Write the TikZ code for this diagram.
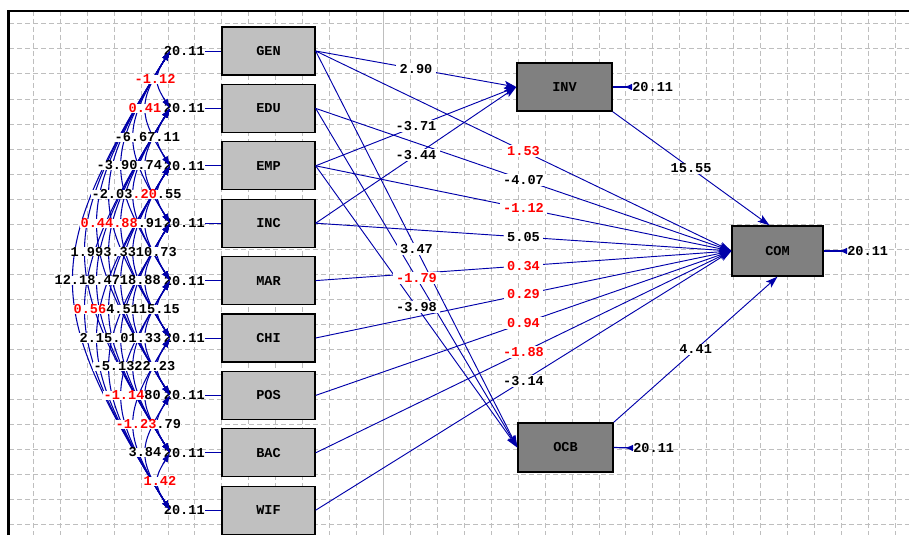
\documentclass[tikz,border=0pt]{standalone}
\usepackage{fontspec}
\newfontfamily\lisfont{Liberation Mono}
\usetikzlibrary{arrows.meta,calc}
\definecolor{lblue}{RGB}{0,0,170}
\definecolor{lred}{RGB}{255,0,0}
\definecolor{gridc}{RGB}{190,190,190}
\definecolor{boxl}{RGB}{192,192,192}
\definecolor{boxd}{RGB}{128,128,128}
\newcommand\lisf{\lisfont\bfseries\fontsize{10.2}{12}\selectfont}
\newcommand\covarcs[1]{%
  \foreach \i in {0,...,7}{%
    \pgfmathtruncatemacro\js{\i+1}%
    \foreach \j in {\js,...,8}{%
      \pgfmathsetmacro\kx{0.28*57.4*(\j-\i)}%
      \pgfmathsetmacro\ky{0.45*57.4*(\j-\i)}%
      \draw[#1] (c\i) .. controls ($(c\i)+(-\kx,\ky)$) and ($(c\j)+(-\kx,-\ky)$) .. (c\j);
    }%
  }%
}
\begin{document}
\begin{tikzpicture}[x=0.75pt,y=-0.75pt,
  gridl/.style={draw=gridc,line width=0.75pt,dash pattern=on 3.75pt off 2.25pt},
  exo/.style={draw=black,line width=1pt,fill=boxl,minimum width=69.75pt,minimum height=36pt,inner sep=0pt,font=\lisf},
  endo/.style={draw=black,line width=1pt,fill=boxd,inner sep=0pt,font=\lisf},
  pth/.style={draw=lblue,line width=0.7pt},
  arr/.style={pth,-{Stealth[length=9pt,width=6pt,inset=2pt]}},
  cov/.style={draw=lblue,line width=0.8pt,{Latex[length=7pt,width=4.5pt]}-{Latex[length=7pt,width=4.5pt]}},
  vtxt/.style={inner sep=0pt,font=\lisf},
  covl/.style={fill=white,inner xsep=0.3pt,inner ysep=0pt,text height=6.5pt,text depth=0.3pt,anchor=west,font=\lisf},
  lbl/.style={fill=white,inner xsep=2.5pt,inner ysep=1pt,font=\lisf},
  rl/.style={lbl,text=lred}]
\useasboundingbox (0,0) rectangle (909,535);
\fill[white] (0,0) rectangle (909,535);
% grid
\begin{scope}
\clip (9,11) rectangle (909,535);
\foreach \k in {0,...,32} \draw[gridl] ({33.3+26.94*\k},11) -- ({33.3+26.94*\k},535);
\foreach \k in {0,...,20} \draw[gridl] (9,{24+25*\k}) -- (909,{24+25*\k});
\draw[gridc,line width=0.9pt] (383.3,11) -- (383.3,535);
\end{scope}
\draw[line width=1.6pt] (8.5,535) -- (8.5,11.2) -- (909,11.2);
% exogenous boxes
\foreach \n [count=\i from 0] in {GEN,EDU,EMP,INC,MAR,CHI,POS,BAC,WIF}{
  \pgfmathsetmacro\yy{51+57.4*\i}
  \node[exo] (\n) at (268.5,\yy) {\n};
  \node[vtxt,anchor=east] (v\i) at (205,\yy) {20.11};
  \coordinate (c\i) at (170,\yy);
}
\foreach \n [count=\i from 0] in {GEN,EDU,EMP,INC,MAR,CHI,POS,BAC,WIF}
  \draw[pth] (v\i.east) -- (\n.west);
% endogenous boxes
\node[endo,minimum width=71.25pt,minimum height=36pt] (INV) at (564.5,87) {INV};
\node[endo,minimum width=68.25pt,minimum height=37.5pt] (COM) at (777.5,251) {COM};
\node[endo,minimum width=71.25pt,minimum height=36.75pt] (OCB) at (565.5,447.5) {OCB};
\node[vtxt,anchor=west] (eINV) at (632,87) {20.11};
\node[vtxt,anchor=west] (eCOM) at (847,251) {20.11};
\node[vtxt,anchor=west] (eOCB) at (633,448) {20.11};
\draw[pth,line width=0.9pt,{Latex[reversed,length=6pt,width=5pt]}-] (eINV.west) -- (INV.east);
\draw[pth,line width=0.9pt,{Latex[reversed,length=6pt,width=5pt]}-] (eCOM.west) -- (COM.east);
\draw[pth,line width=0.9pt,{Latex[reversed,length=6pt,width=5pt]}-] (eOCB.west) -- (OCB.east);
% structural paths
\foreach \n in {GEN,EMP,INC} \draw[arr] (\n.east) -- (INV.west);
\foreach \n in {GEN,EDU,EMP,INC,MAR,CHI,POS,BAC,WIF} \draw[arr] (\n.east) -- (COM.west);
\foreach \n in {GEN,EDU,EMP} \draw[arr] (\n.east) -- (OCB.west);
\draw[arr] (INV.south east) -- ([xshift=-6pt]COM.north);
\draw[arr] (OCB.north east) -- (COM.south);
% covariance arcs
\covarcs{cov}
% covariance labels
\node[covl] (k1) at (134,79.7) {\color{lred}-1.12};
\node[covl] (k2) at (128,108.4) {\color{lred}0.41};
\node[covl] (k3) at (114,137.1) {-6.67.11};
\node[covl] (k4) at (96,165.8) {-3.90.74};
\node[covl] (k5) at (91,194.5) {-2.03{\color{lred}.20}.55};
\node[covl] (k6) at (80,223.2) {{\color{lred}0.44.88}.91};
\node[covl] (k7) at (70,251.9) {1.993.3310.73};
\node[covl] (k8) at (54,280.6) {12.18.4718.88};
\node[covl] (k9) at (73,309.3) {{\color{lred}0.56}4.5115.15};
\node[covl] (k10) at (79,338) {2.15.01.33};
\node[covl] (k11) at (93,366.7) {-5.1322.23};
\node[covl] (k12) at (103,395.4) {{\color{lred}-1.14}80};
\node[covl] (k13) at (115,424.1) {{\color{lred}-1.23}.79};
\node[covl] (k14) at (128,452.8) {3.84};
\node[covl] (k15) at (143,481.5) {\color{lred}1.42};
% arrowheads on top
\begin{scope}
\clip \foreach \i in {0,...,8}{ (155,{51+57.4*\i-11}) rectangle (176,{51+57.4*\i+11}) };
\covarcs{cov}
\end{scope}
% path labels
\path (GEN.east) -- node[lbl]{2.90} (INV.west);
\path (EMP.east) -- node[lbl]{-3.71} (INV.west);
\path (INC.east) -- node[lbl]{-3.44} (INV.west);
\path (GEN.east) -- node[rl]{1.53} (COM.west);
\path (EDU.east) -- node[lbl]{-4.07} (COM.west);
\path (EMP.east) -- node[rl]{-1.12} (COM.west);
\path (INC.east) -- node[lbl]{5.05} (COM.west);
\path (MAR.east) -- node[rl]{0.34} (COM.west);
\path (CHI.east) -- node[rl]{0.29} (COM.west);
\path (POS.east) -- node[rl]{0.94} (COM.west);
\path (BAC.east) -- node[rl]{-1.88} (COM.west);
\path (WIF.east) -- node[lbl]{-3.14} (COM.west);
\path (GEN.east) -- node[lbl]{3.47} (OCB.west);
\path (EDU.east) -- node[rl]{-1.79} (OCB.west);
\path (EMP.east) -- node[lbl]{-3.98} (OCB.west);
\path (INV.south east) -- node[lbl]{15.55} ([xshift=-6pt]COM.north);
\path (OCB.north east) -- node[lbl]{4.41} (COM.south);
\end{tikzpicture}
\end{document}
